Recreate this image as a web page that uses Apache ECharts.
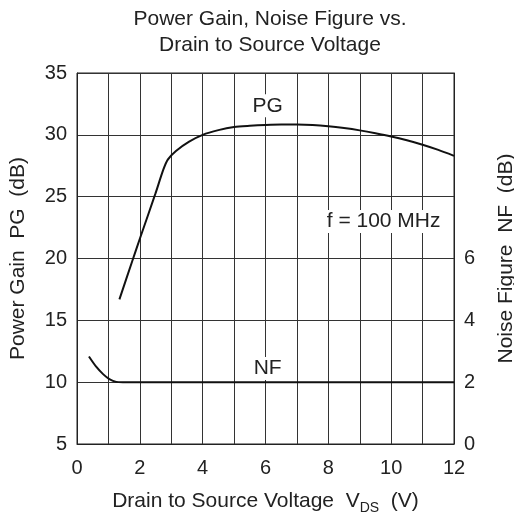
<!DOCTYPE html>
<html>
<head>
<meta charset="utf-8">
<script src="https://cdn.jsdelivr.net/npm/echarts@6/dist/echarts.min.js"></script>
<style>html,body{margin:0;padding:0;background:#fff}#c{width:514px;height:517px}</style>
</head>
<body>
<div id="c"></div>
<script>
var titleLines = ['Power Gain, Noise Figure vs.', 'Drain to Source Voltage'];
var xTicks = [0, 2, 4, 6, 8, 10, 12];
var pgTicks = [5, 10, 15, 20, 25, 30, 35];
var nfTicks = [0, 2, 4, 6];
var pgVds = [1.35, 1.76, 2.0, 2.49, 2.75, 2.89, 3.15, 3.57, 4.0, 4.5, 5, 5.5, 6, 6.5, 7, 7.5, 8, 8.5, 9, 9.5, 10, 10.5, 11, 11.5, 12];
var pgVals = [16.7, 19.8, 21.6, 25.2, 27.2, 28.0, 28.7, 29.45, 30.0, 30.38, 30.63, 30.73, 30.8, 30.84, 30.84, 30.8, 30.7, 30.55, 30.36, 30.13, 29.87, 29.56, 29.2, 28.78, 28.3];
var nfVds = [0.38, 0.61, 0.83, 1.03, 1.25, 1.46, 2, 4, 6, 8, 10, 12];
var nfVals = [2.83, 2.50, 2.26, 2.10, 2.01, 2.0, 2.0, 2.0, 2.0, 2.0, 2.0, 2.0];
var notes = [
  {text: 'PG', x: 6.07, y: 32.35},
  {text: 'f = 100 MHz', x: 9.76, y: 23.0},
  {text: 'NF', x: 6.07, y: 11.1}
];

function zip(a, b) { return a.map(function (v, i) { return [v, b[i]]; }); }

var font = 'Liberation Sans, Arial, sans-serif';
var chart = echarts.init(document.getElementById('c'));
chart.setOption({
  animation: false,
  backgroundColor: '#fff',
  title: {
    text: titleLines.join('\n'),
    left: 265, textAlign: 'center', top: 1,
    textStyle: {fontFamily: font, fontSize: 21, fontWeight: 'normal', color: '#222', lineHeight: 26}
  },
  grid: {left: 77, right: 60, top: 73, bottom: 73, show: true, borderColor: '#222', borderWidth: 1,
    containLabel: false, outerBoundsMode: 'none'},
  xAxis: {
    type: 'value', min: 0, max: 12, interval: 1,
    name: 'Drain to Source Voltage  V{s|DS}  (V)',
    nameLocation: 'middle', nameGap: 44,
    nameTextStyle: {fontFamily: font, fontSize: 21, color: '#222',
      rich: {s: {fontFamily: font, fontSize: 14, color: '#222', padding: [13, 0, 0, 0]}}},
    axisLine: {show: true, lineStyle: {color: '#222'}},
    axisTick: {show: false},
    axisLabel: {fontFamily: font, fontSize: 20, color: '#222', margin: 14,
      formatter: function (v) { return xTicks.indexOf(v) >= 0 ? String(v) : ''; }},
    splitLine: {show: true, lineStyle: {color: '#333', width: 1}}
  },
  yAxis: [{
    type: 'value', min: 5, max: 35, interval: 5,
    name: 'Power Gain  PG  (dB)', nameLocation: 'middle', nameGap: 48,
    nameTextStyle: {fontFamily: font, fontSize: 21, color: '#222'},
    axisLine: {show: true, lineStyle: {color: '#222'}},
    axisTick: {show: false},
    axisLabel: {fontFamily: font, fontSize: 20, color: '#222', margin: 10,
      formatter: function (v) { return pgTicks.indexOf(v) >= 0 ? String(v) : ''; }},
    splitLine: {show: true, lineStyle: {color: '#333', width: 1}}
  }, {
    type: 'value', min: 0, max: 12, interval: 2, position: 'right',
    name: 'Noise Figure  NF  (dB)', nameLocation: 'middle', nameGap: 42,
    nameTextStyle: {fontFamily: font, fontSize: 21, color: '#222'},
    axisLine: {show: true, lineStyle: {color: '#222'}},
    axisTick: {show: false},
    axisLabel: {fontFamily: font, fontSize: 20, color: '#222', margin: 10,
      formatter: function (v) { return nfTicks.indexOf(v) >= 0 ? String(v) : ''; }},
    splitLine: {show: false}
  }],
  series: [{
    type: 'line', name: 'PG', yAxisIndex: 0, data: zip(pgVds, pgVals),
    showSymbol: false, smooth: 0.25, lineStyle: {color: '#111', width: 2},
    markPoint: {
      symbol: 'rect', symbolSize: 0, silent: true,
      label: {show: true, position: 'inside', fontFamily: font, fontSize: 21, color: '#222',
        backgroundColor: '#fff', padding: [1, 2, 1, 2], formatter: '{b}'},
      data: notes.map(function (n) { return {name: n.text, coord: [n.x, n.y]}; })
    }
  }, {
    type: 'line', name: 'NF', yAxisIndex: 1, data: zip(nfVds, nfVals),
    showSymbol: false, smooth: 0.25, lineStyle: {color: '#111', width: 2}
  }]
});
</script>
</body>
</html>
